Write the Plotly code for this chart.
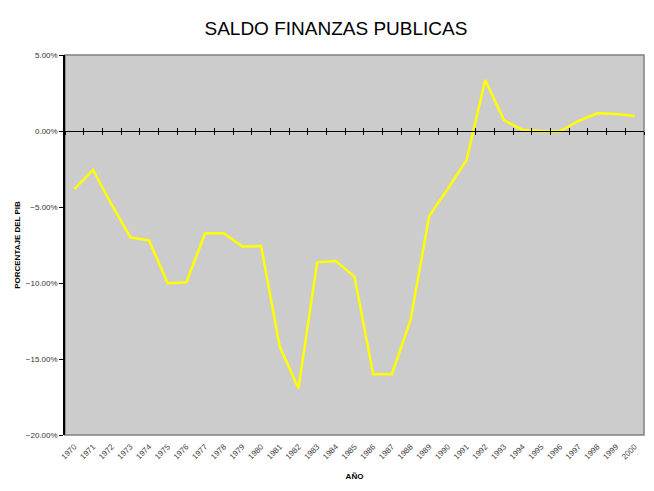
import plotly.graph_objects as go

years = [str(y) for y in range(1970, 2001)]
saldo_pct = [-3.82, -2.55, -4.85, -7.00, -7.20, -10.02, -9.95, -6.73, -6.73, -7.60,
             -7.57, -14.20, -16.93, -8.64, -8.55, -9.58, -16.00, -16.00, -12.43, -5.59,
             -3.80, -1.91, 3.36, 0.72, 0.07, 0.00, -0.02, 0.66, 1.16, 1.12, 0.99]
y_ticks = [0.05, 0.0, -0.05, -0.10, -0.15, -0.20]

values = [v / 100 for v in saldo_pct]

font = "Liberation Sans, Arial, sans-serif"

fig = go.Figure()
fig.add_trace(go.Scatter(x=years, y=values, mode="lines",
                         line=dict(color="#FFFF00", width=2.5),
                         hoverinfo="x+y", showlegend=False))

# plot area border
fig.add_shape(type="rect", xref="paper", yref="paper", x0=0, x1=1, y0=0, y1=1,
              line=dict(color="#808080", width=1.5), layer="below")

fig.update_layout(
    width=638, height=475,
    margin=dict(l=57, r=2, t=47, b=48, autoexpand=False),
    paper_bgcolor="white", plot_bgcolor="#CCCCCC",
    title=dict(text="SALDO FINANZAS PUBLICAS", x=0.514, xanchor="center",
               y=0.958, yanchor="middle", automargin=False,
               font=dict(family=font, size=19, color="black")),
    font=dict(family=font, color="black"),
    xaxis=dict(type="category", categoryorder="array", categoryarray=years,
               range=[-0.5, 30.5], showgrid=False, zeroline=False, automargin=False,
               showline=False, ticks="outside", ticklen=3, tickcolor="rgba(0,0,0,0)",
               tickangle=-45,
               tickfont=dict(size=8, family=font, color="#444"),
               title=dict(text="<b>AÑO</b>", font=dict(size=8, family=font), standoff=12)),
    xaxis2=dict(type="category", categoryorder="array", categoryarray=years,
                range=[-0.5, 30.5], overlaying="x", anchor="free", position=0.8,
                showgrid=False, zeroline=False, showline=True, linecolor="black",
                linewidth=1, ticks="outside", ticklen=3, tickcolor="black",
                tickson="boundaries", showticklabels=False, automargin=False),
    xaxis3=dict(type="category", categoryorder="array", categoryarray=years,
                range=[-0.5, 30.5], overlaying="x", anchor="free", position=0.8,
                showgrid=False, zeroline=False, showline=False,
                ticks="inside", ticklen=3, tickcolor="black",
                tickson="boundaries", showticklabels=False, automargin=False),
    yaxis=dict(range=[-0.20, 0.05], tickvals=y_ticks, tickformat=".2%",
               showgrid=False, zeroline=False, showline=True, linecolor="black",
               linewidth=1.5, ticks="outside", ticklen=4, tickcolor="black",
               automargin=False,
               tickfont=dict(size=8, family=font, color="#333"),
               title=dict(text="<b>PORCENTAJE DEL PIB</b>",
                          font=dict(size=8, family=font), standoff=4)),
)

# invisible traces to activate the crossing axes
fig.add_trace(go.Scatter(x=years, y=values, xaxis="x2", mode="lines",
                         line=dict(width=0), hoverinfo="skip", showlegend=False))
fig.add_trace(go.Scatter(x=years, y=values, xaxis="x3", mode="lines",
                         line=dict(width=0), hoverinfo="skip", showlegend=False))

fig.write_html("out.html")
